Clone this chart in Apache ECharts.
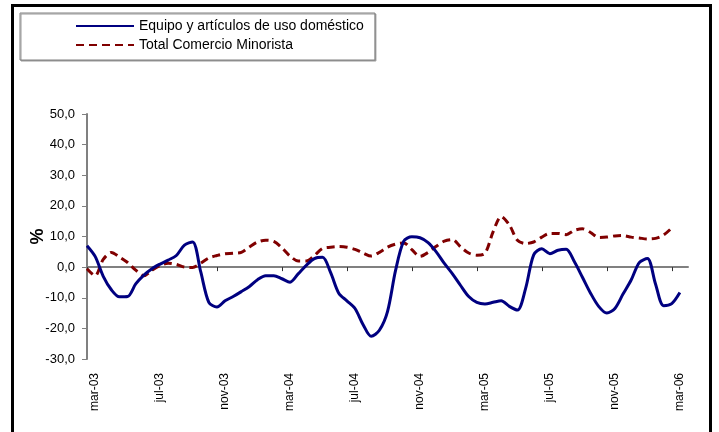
<!DOCTYPE html>
<html>
<head>
<meta charset="utf-8">
<script src="https://cdn.jsdelivr.net/npm/echarts@6/dist/echarts.min.js"></script>
<style>
  html, body { margin: 0; padding: 0; background: #fff; }
  #chart { width: 719px; height: 432px; }
</style>
</head>
<body>
<div id="chart"></div>
<script>
// months shown on the axis (mid-month points), data sampled twice a month
var months = ["mar-03", "abr-03", "may-03", "jun-03", "jul-03", "ago-03", "sep-03", "oct-03",
  "nov-03", "dic-03", "ene-04", "feb-04", "mar-04", "abr-04", "may-04", "jun-04", "jul-04",
  "ago-04", "sep-04", "oct-04", "nov-04", "dic-04", "ene-05", "feb-05", "mar-05", "abr-05",
  "may-05", "jun-05", "jul-05", "ago-05", "sep-05", "oct-05", "nov-05", "dic-05", "ene-06",
  "feb-06", "mar-06"];

var equipo = [7.0, 3.5, -3.0, -7.4, -9.7, -9.6, -5.5, -2.6, -0.5, 1.0,
  2.3, 3.8, 7.2, 8.2, -1.5, -11.5, -13.0, -11.0, -9.6, -8.0,
  -6.3, -4.1, -2.8, -2.8, -3.8, -4.9, -2.2, 0.6, 2.8, 3.2,
  -1.8, -8.5, -11.0, -13.5, -18.8, -22.6, -20.6, -14.5, -1.0, 8.5,
  9.9, 9.6, 8.0, 5.0, 1.2, -2.2, -6.0, -9.6, -11.5, -12.0,
  -11.5, -11.0, -12.8, -14.0, -7.0, 4.0, 6.0, 4.4, 5.5, 5.8,
  1.8, -3.3, -8.5, -12.8, -15.0, -13.5, -8.8, -4.2, 1.5, 2.8,
  -5.5, -12.6, -11.9, -8.3];

var totalMinorista = [-0.5, -2.8, 2.5, 4.8, 3.3, 1.5, -1.0, -2.8, -1.0, 0.5,
  1.3, 0.9, 0.0, -0.1, 1.3, 3.0, 3.8, 4.4, 4.5, 4.8,
  6.6, 8.2, 8.8, 8.4, 6.3, 3.6, 2.0, 2.0, 3.8, 6.1,
  6.5, 6.7, 6.5, 5.8, 4.6, 3.6, 4.8, 6.5, 7.5, 7.9,
  5.7, 3.5, 4.8, 6.8, 8.5, 9.0, 6.6, 4.6, 3.9, 4.5,
  11.5, 16.5, 13.8, 8.8, 7.7, 8.2, 9.8, 11.0, 11.0, 10.6,
  12.0, 12.5, 11.3, 9.7, 9.8, 10.2, 10.3, 9.8, 9.5, 9.2,
  9.4, 10.5, 12.8];

var seriesNames = ["Equipo y artículos de uso doméstico", "Total Comercio Minorista"];

// half-month categories: start of month, then mid-month (labelled)
var cats = [];
for (var i = 0; i < months.length; i++) {
  cats.push("1 " + months[i]);
  cats.push(months[i]);
}
cats.push("1 abr-06");

var font = "'Liberation Sans', Arial, sans-serif";

var option = {
  animation: false,
  backgroundColor: "#fff",
  graphic: [
    {
      type: "rect",
      shape: { x: 12.5, y: 5.5, width: 698, height: 440 },
      style: { fill: "none", stroke: "#000", lineWidth: 3 },
      silent: true
    }
  ],
  legend: {
    orient: "vertical",
    left: 20,
    top: 13,
    padding: [6, 11, 8, 55],
    itemGap: 5,
    itemWidth: 58,
    itemHeight: 14,
    backgroundColor: "#fff",
    borderColor: "#808080",
    borderWidth: 1,
    shadowColor: "#9a9a9a",
    shadowOffsetX: 1,
    shadowOffsetY: 1,
    shadowBlur: 0,
    itemStyle: { opacity: 0 },
    textStyle: { fontFamily: font, fontSize: 14, color: "#000" },
    data: seriesNames
  },
  grid: { left: 87, right: 31, top: 114, bottom: 73 },
  xAxis: [
    {
      // line at zero with ticks
      type: "category",
      position: "bottom",
      boundaryGap: false,
      data: cats,
      axisLine: { onZero: true, lineStyle: { color: "#808080", width: 2 } },
      axisTick: {
        show: true,
        length: 4,
        interval: function(idx) { return idx % 8 === 0; },
        lineStyle: { color: "#303030", width: 1 }
      },
      axisLabel: { show: false },
      splitLine: { show: false }
    },
    {
      // labels at the bottom of the plot
      type: "category",
      position: "bottom",
      boundaryGap: false,
      data: cats,
      axisLine: { show: false, onZero: false },
      axisTick: { show: false },
      axisLabel: {
        interval: function(idx) { return idx % 8 === 1; },
        rotate: 90,
        margin: 14,
        fontFamily: font,
        fontSize: 12,
        color: "#000"
      },
      splitLine: { show: false }
    }
  ],
  yAxis: {
    type: "value",
    min: -30,
    max: 50,
    interval: 10,
    name: "%",
    nameLocation: "middle",
    nameRotate: 90,
    nameGap: 40,
    nameMoveOverlap: false,
    nameTextStyle: { fontFamily: font, fontSize: 18, fontWeight: "bold", color: "#000" },
    axisLine: { show: true, lineStyle: { color: "#808080", width: 2 } },
    axisTick: { show: true, length: 5, lineStyle: { color: "#808080", width: 1 } },
    axisLabel: {
      margin: 12,
      fontFamily: font,
      fontSize: 13,
      color: "#000",
      formatter: function(v) { return v.toFixed(1).replace(".", ","); }
    },
    splitLine: { show: false }
  },
  series: [
    {
      name: seriesNames[0],
      type: "line",
      xAxisIndex: 0,
      data: equipo,
      smooth: 0.3,
      symbol: "none",
      lineStyle: { color: "#000080", width: 3 },
      itemStyle: { color: "#000080" },
      z: 3
    },
    {
      name: seriesNames[1],
      type: "line",
      xAxisIndex: 0,
      data: totalMinorista,
      smooth: 0.3,
      symbol: "none",
      lineStyle: { color: "#800000", width: 3, type: [8, 5] },
      itemStyle: { color: "#800000" },
      z: 2
    }
  ]
};

var chart = echarts.init(document.getElementById("chart"));
chart.setOption(option);
</script>
</body>
</html>
